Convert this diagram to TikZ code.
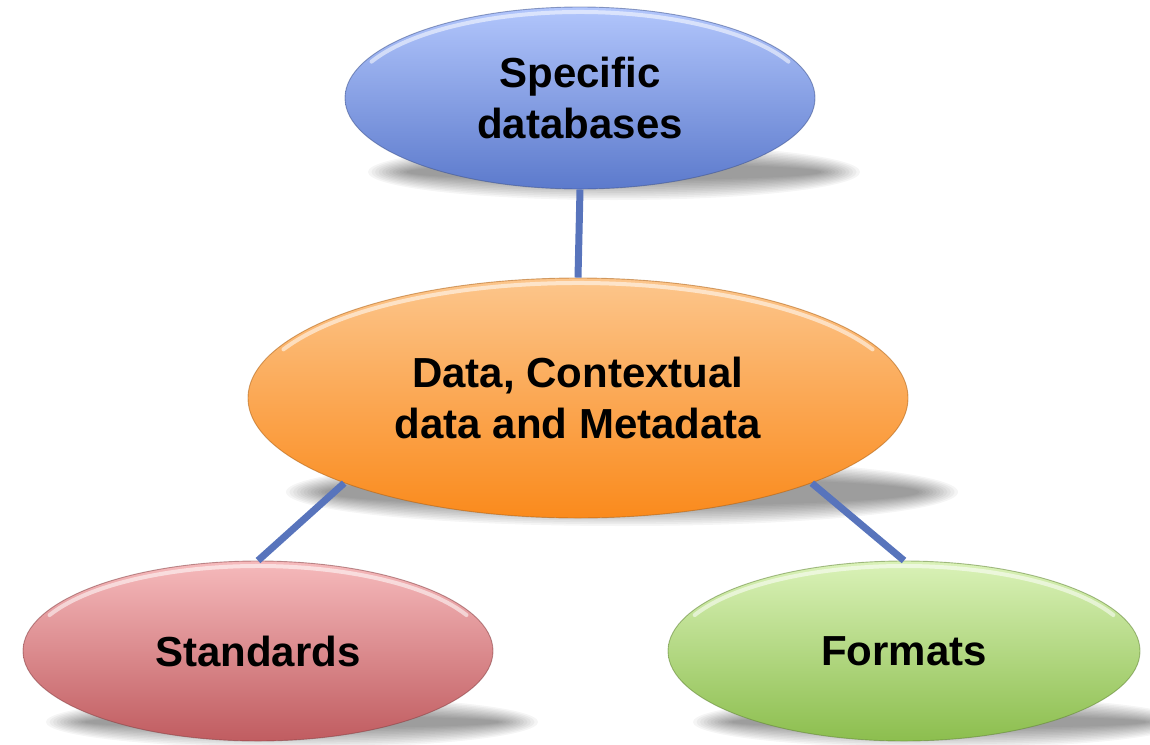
\documentclass[tikz,border=0pt]{standalone}
\usepackage{fontspec}
\setmainfont{Liberation Sans}
\usetikzlibrary{shapes.geometric}
\definecolor{linkblue}{RGB}{88,116,188}
\definecolor{btop}{RGB}{178,198,252}
\definecolor{bbot}{RGB}{92,122,204}
\definecolor{otop}{RGB}{252,198,140}
\definecolor{obot}{RGB}{250,138,28}
\definecolor{rtop}{RGB}{246,186,188}
\definecolor{rbot}{RGB}{192,92,96}
\definecolor{gtop}{RGB}{218,242,184}
\definecolor{gbot}{RGB}{140,190,78}
\tikzset{
  bubble/.style={ellipse, inner sep=0pt, align=center,
    font=\fontsize{42}{51}\selectfont\bfseries, text=black, line width=0.9pt, draw opacity=0.55},
  link/.style={draw=linkblue, line width=7pt},
  gloss/.style={draw=white, line width=4pt, draw opacity=0.55, line cap=round},
}
\newcommand{\softshadow}[4]{%
  \foreach \i in {0,...,11}{
    \fill[black, opacity=0.04] (#1,#2) ellipse [x radius={#3-\i*3.5}, y radius={#4-\i*1.8}];
  }}
\newcommand{\glossarc}[4]{%
  \draw[gloss] (#1,#2) ++(205:{#3-5} and {#4-5}) arc [start angle=205, end angle=335, x radius={#3-5}, y radius={#4-5}];}
\begin{document}
\begin{tikzpicture}[x=1pt,y=-1pt]
\useasboundingbox (0,0) rectangle (1150,744);
% shadows
\softshadow{614}{172}{246}{28}
\softshadow{622}{492}{336}{34}
\softshadow{292}{722}{246}{26}
\softshadow{939}{722}{246}{26}
% nodes
\node[bubble, minimum width=470pt, minimum height=182pt, top color=btop, bottom color=bbot, draw=bbot!70!black] (t) at (580,98) {Specific\\databases};
\node[bubble, minimum width=660pt, minimum height=240pt, top color=otop, bottom color=obot, draw=obot!70!black] (m) at (578,398) {Data, Contextual\\data and Metadata};
\node[bubble, minimum width=470pt, minimum height=180pt, top color=rtop, bottom color=rbot, draw=rbot!70!black] (s) at (258,651) {Standards};
\node[bubble, minimum width=472pt, minimum height=180pt, top color=gtop, bottom color=gbot, draw=gbot!70!black] (f) at (904,651) {Formats};
% gloss highlights
\glossarc{580}{98}{235}{91}
\glossarc{578}{398}{330}{120}
\glossarc{258}{651}{235}{90}
\glossarc{904}{651}{236}{90}
% connectors
\draw[link] (t.south) -- (m.north);
\draw[link] (m.200) -- (s.north);
\draw[link] (m.-20) -- (f.north);
\end{tikzpicture}
\end{document}
